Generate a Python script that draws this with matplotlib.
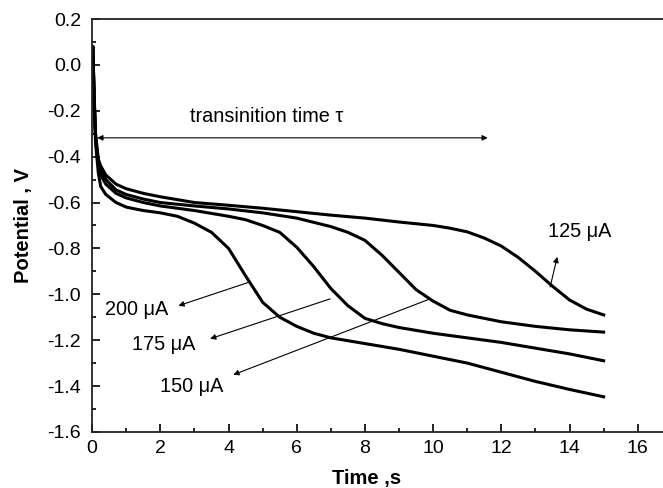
import numpy as np
import matplotlib.pyplot as plt
from matplotlib.ticker import MultipleLocator

plt.rcParams['font.family'] = ['Liberation Sans', 'DejaVu Sans']

# chronopotentiograms
t125 = [0.0, 0.02, 0.06, 0.1, 0.18, 0.25, 0.4, 0.7, 1.0, 1.5, 2, 3, 4, 5, 6, 7, 8, 9,
        10, 10.5, 11, 11.5, 12, 12.5, 13, 13.5, 14, 14.5, 15]
v125 = [0.06, 0.08, -0.14, -0.30, -0.41, -0.44, -0.48, -0.52, -0.54, -0.56, -0.575,
        -0.60, -0.612, -0.625, -0.64, -0.655, -0.668, -0.685, -0.70, -0.712, -0.728,
        -0.755, -0.79, -0.84, -0.90, -0.965, -1.025, -1.065, -1.09]

t150 = [0.0, 0.02, 0.06, 0.1, 0.18, 0.25, 0.4, 0.7, 1.0, 1.5, 2, 3, 4, 5, 6, 7, 7.5,
        8, 8.5, 9, 9.5, 10, 10.5, 11, 12, 13, 14, 15]
v150 = [0.06, 0.08, -0.15, -0.31, -0.43, -0.46, -0.50, -0.545, -0.565, -0.585, -0.60,
        -0.615, -0.628, -0.645, -0.668, -0.705, -0.73, -0.765, -0.83, -0.905, -0.98,
        -1.03, -1.07, -1.09, -1.12, -1.14, -1.155, -1.165]

t175 = [0.0, 0.02, 0.06, 0.1, 0.18, 0.25, 0.4, 0.7, 1.0, 1.5, 2, 3, 4, 4.5, 5, 5.5, 6,
        6.5, 7, 7.5, 8, 8.5, 9, 10, 11, 12, 13, 14, 15]
v175 = [0.06, 0.08, -0.16, -0.32, -0.44, -0.48, -0.52, -0.56, -0.58, -0.60, -0.615,
        -0.635, -0.66, -0.675, -0.70, -0.73, -0.795, -0.88, -0.975, -1.05, -1.105,
        -1.128, -1.145, -1.17, -1.19, -1.21, -1.235, -1.26, -1.29]

t200 = [0.0, 0.02, 0.06, 0.1, 0.18, 0.25, 0.4, 0.7, 1.0, 1.5, 2, 2.5, 3, 3.5, 4, 4.5,
        5, 5.5, 6, 6.5, 7, 8, 9, 10, 11, 12, 13, 14, 15]
v200 = [0.06, 0.08, -0.17, -0.34, -0.47, -0.53, -0.565, -0.60, -0.62, -0.635, -0.645,
        -0.66, -0.69, -0.73, -0.80, -0.92, -1.035, -1.10, -1.14, -1.17, -1.19, -1.215,
        -1.24, -1.27, -1.30, -1.34, -1.38, -1.415, -1.447]

fig = plt.figure(figsize=(6.63, 4.88), dpi=100)
ax = fig.add_axes([0.139, 0.115, 0.861, 0.846])

for t, v in [(t125, v125), (t150, v150), (t175, v175), (t200, v200)]:
    ax.plot(t, v, color='black', lw=2.2, solid_joinstyle='round')

ax.set_xlim(0, 16.74)
ax.set_ylim(-1.6, 0.2)
ax.xaxis.set_major_locator(MultipleLocator(2))
ax.xaxis.set_minor_locator(MultipleLocator(1))
ax.yaxis.set_major_locator(MultipleLocator(0.2))
ax.yaxis.set_minor_locator(MultipleLocator(0.1))
ax.yaxis.set_major_formatter(plt.FuncFormatter(lambda y, _: f"{y:.1f}"))
ax.tick_params(which='both', direction='in', labelsize=14, width=1.2)
ax.tick_params(axis='x', pad=6)
ax.tick_params(axis='y', pad=8)
ax.tick_params(which='major', length=6)
ax.tick_params(which='minor', length=3)
ax.spines['right'].set_visible(False)
for s in ['left', 'bottom', 'top']:
    ax.spines[s].set_linewidth(1.3)
    ax.spines[s].set_color('#222222')

ax.set_xlabel('Time ,s', fontsize=14.5, fontweight='bold')
ax.set_ylabel('Potential , V', fontsize=14.5, fontweight='bold')
ax.xaxis.set_label_coords(0.48, -0.09)
ax.yaxis.set_label_coords(-0.103, 0.5)

# transition time double arrow
ax.annotate('', xy=(0.15, -0.318), xytext=(11.6, -0.318),
            arrowprops=dict(arrowstyle='<|-|>', lw=0.8, color='black', mutation_scale=8,
                            shrinkA=0, shrinkB=0))
ax.text(2.87, -0.227, 'transinition time \u03c4', fontsize=14.3, va='center', ha='left')

# current labels
labels = ['200 \u03bcA', '175 \u03bcA', '150 \u03bcA', '125 \u03bcA']
text_pos = [(0.38, -1.068), (1.17, -1.22), (2.0, -1.40), (13.37, -0.728)]
arrow_from = [(4.63, -0.946), (6.98, -1.02), (9.91, -1.02), (13.43, -0.968)]
arrow_to = [(2.53, -1.05), (3.46, -1.194), (4.14, -1.351), (13.64, -0.837)]
for lab, tp, af, at in zip(labels, text_pos, arrow_from, arrow_to):
    ax.text(tp[0], tp[1], lab, fontsize=14.3, va='center', ha='left')
    ax.annotate('', xy=at, xytext=af,
                arrowprops=dict(arrowstyle='-|>', lw=0.8, color='black', mutation_scale=8,
                                shrinkA=0, shrinkB=0))

fig.savefig('out.png', dpi=100)
